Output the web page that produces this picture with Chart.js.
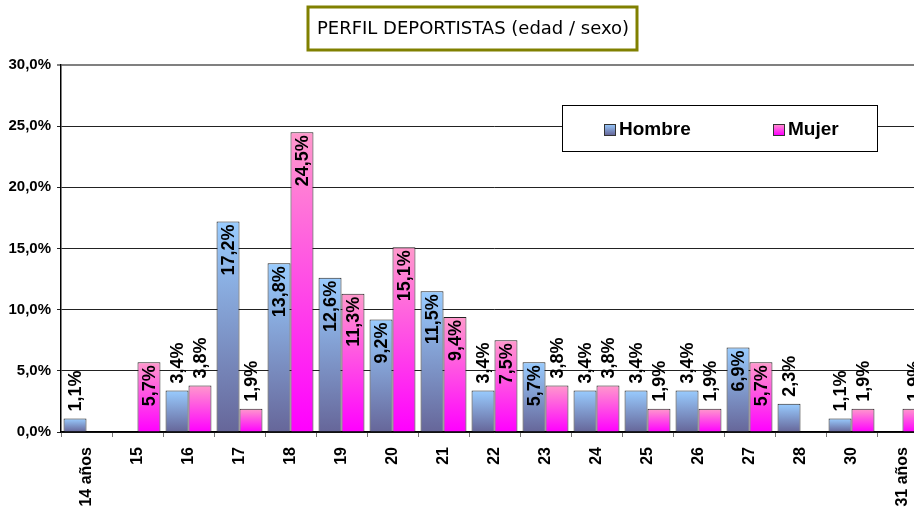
<!DOCTYPE html>
<html>
<head>
<meta charset="utf-8">
<script src="https://cdn.jsdelivr.net/npm/chart.js@4/dist/chart.umd.min.js"></script>
<style>
  html, body { margin: 0; padding: 0; background: #fff; overflow: hidden; }
  #wrap { width: 940px; height: 521px; }
</style>
</head>
<body>
<div id="wrap"><canvas id="myChart" width="940" height="521"></canvas></div>
<script>
// Data
const categories = ['14 años', '15', '16', '17', '18', '19', '20', '21', '22', '23', '24', '25', '26', '27', '28', '30', '31 años'];
const hombre = [1.1, null, 3.4, 17.2, 13.8, 12.6, 9.2, 11.5, 3.4, 5.7, 3.4, 3.4, 3.4, 6.9, 2.3, 1.1, null];
const mujer = [null, 5.7, 3.8, 1.9, 24.5, 11.3, 15.1, 9.4, 7.5, 3.8, 3.8, 1.9, 1.9, 5.7, null, 1.9, 1.9];
const seriesNames = ['Hombre', 'Mujer'];
const chartTitle = 'PERFIL DEPORTISTAS (edad / sexo)';

const FONT = "'Liberation Sans', Arial, sans-serif";

// colours: light at top of each bar, dark at its base
const hombreColors = ['#99CCFF', '#666699'];
const mujerColors = ['#FF99CC', '#FF00FF'];

function pct(v) {
    return v.toFixed(1).replace('.', ',') + '%';
}

function barGradient(context, colors) {
    let chart = context.chart;
    let yScale = chart.scales.y;
    if (!yScale || context.raw == null) return colors[0];
    let top = yScale.getPixelForValue(context.raw);
    let base = yScale.getPixelForValue(0);
    if (!isFinite(top) || !isFinite(base) || top === base) return colors[0];
    let g = chart.ctx.createLinearGradient(0, top, 0, base);
    g.addColorStop(0, colors[0]);
    g.addColorStop(1, colors[1]);
    return g;
}

// rotated value labels: inside the top of the bar if they fit, else above it
const valueLabels = {
    id: 'valueLabels',
    afterDatasetsDraw(chart) {
        let ctx = chart.ctx;
        ctx.save();
        ctx.font = 'bold 18px ' + FONT;
        ctx.fillStyle = '#000';
        ctx.textBaseline = 'middle';
        chart.data.datasets.forEach((ds, di) => {
            let meta = chart.getDatasetMeta(di);
            meta.data.forEach((bar, i) => {
                let v = ds.data[i];
                if (v == null) return;
                let label = pct(v);
                let w = ctx.measureText(label).width;
                let h = bar.base - bar.y;
                ctx.save();
                if (w + 6 <= h) {
                    ctx.translate(bar.x, bar.y + 3);
                    ctx.rotate(-Math.PI / 2);
                    ctx.textAlign = 'right';
                } else {
                    ctx.translate(bar.x, bar.y - 7);
                    ctx.rotate(-Math.PI / 2);
                    ctx.textAlign = 'left';
                }
                ctx.fillText(label, 0, 1);
                ctx.restore();
            });
        });
        ctx.restore();
    }
};

// boxed title and boxed legend, drawn on the canvas
const boxes = {
    id: 'boxes',
    afterDraw(chart) {
        let ctx = chart.ctx;
        ctx.save();
        // title box
        ctx.fillStyle = '#fff';
        ctx.fillRect(308, 7, 329, 43);
        ctx.strokeStyle = '#808000';
        ctx.lineWidth = 3;
        ctx.strokeRect(308, 7, 329, 43);
        ctx.fillStyle = '#000';
        ctx.font = '18px "DejaVu Sans", Verdana, sans-serif';
        ctx.textAlign = 'center';
        ctx.textBaseline = 'middle';
        ctx.fillText(chartTitle, 473, 29);

        // legend box
        ctx.fillStyle = '#fff';
        ctx.fillRect(562.5, 105.5, 315, 46);
        ctx.strokeStyle = '#000';
        ctx.lineWidth = 1;
        ctx.strokeRect(562.5, 105.5, 315, 46);
        let items = [
            {x: 604, colors: hombreColors},
            {x: 773, colors: mujerColors}
        ];
        ctx.font = 'bold 19px ' + FONT;
        ctx.textAlign = 'left';
        items.forEach((it, i) => {
            let g = ctx.createLinearGradient(0, 124, 0, 135);
            g.addColorStop(0, it.colors[0]);
            g.addColorStop(1, it.colors[1]);
            ctx.fillStyle = g;
            ctx.fillRect(it.x + 0.5, 124.5, 11, 11);
            ctx.strokeStyle = '#333';
            ctx.strokeRect(it.x + 0.5, 124.5, 11, 11);
            ctx.fillStyle = '#000';
            ctx.fillText(chart.data.datasets[i].label, it.x + 15, 130);
        });
        ctx.restore();
    }
};

let ctx = document.getElementById('myChart').getContext('2d');

let chart = new Chart(ctx, {
    type: 'bar',
    data: {
        labels: categories,
        datasets: [
            {
                label: seriesNames[0],
                data: hombre,
                backgroundColor: (c) => barGradient(c, hombreColors),
                borderColor: '#222',
                borderWidth: 1,
                borderSkipped: 'bottom'
            },
            {
                label: seriesNames[1],
                data: mujer,
                backgroundColor: (c) => barGradient(c, mujerColors),
                borderColor: '#222',
                borderWidth: 1,
                borderSkipped: 'bottom'
            }
        ]
    },
    options: {
        responsive: false,
        animation: false,
        devicePixelRatio: 1,
        layout: {
            padding: {top: 65, right: 12, left: 0, bottom: 0}
        },
        datasets: {
            bar: {
                categoryPercentage: 0.9,
                barPercentage: 1.0
            }
        },
        plugins: {
            legend: {display: false},
            title: {display: false},
            tooltip: {enabled: false}
        },
        scales: {
            x: {
                grid: {
                    drawOnChartArea: false,
                    drawTicks: true,
                    tickLength: 5,
                    color: '#777',
                    offset: true
                },
                border: {display: true, color: '#000', width: 1.5},
                ticks: {
                    maxRotation: 90,
                    minRotation: 90,
                    padding: 10,
                    color: '#000',
                    font: {family: FONT, size: 16, weight: 'bold'}
                },
                afterFit(scale) {
                    scale.height = 89;
                }
            },
            y: {
                min: 0,
                max: 30,
                ticks: {
                    stepSize: 5,
                    padding: 6,
                    color: '#000',
                    font: {family: FONT, size: 15, weight: 'bold'},
                    callback: (v) => pct(v)
                },
                grid: {
                    color: (c) => c.tick && c.tick.value === 30 ? '#808080' : '#222',
                    lineWidth: (c) => c.tick && c.tick.value === 30 ? 2 : 1,
                    tickLength: 4
                },
                border: {display: true, color: '#000', width: 1.5},
                afterFit(scale) {
                    scale.width = 61;
                }
            }
        }
    },
    plugins: [valueLabels, boxes]
});
</script>
</body>
</html>
